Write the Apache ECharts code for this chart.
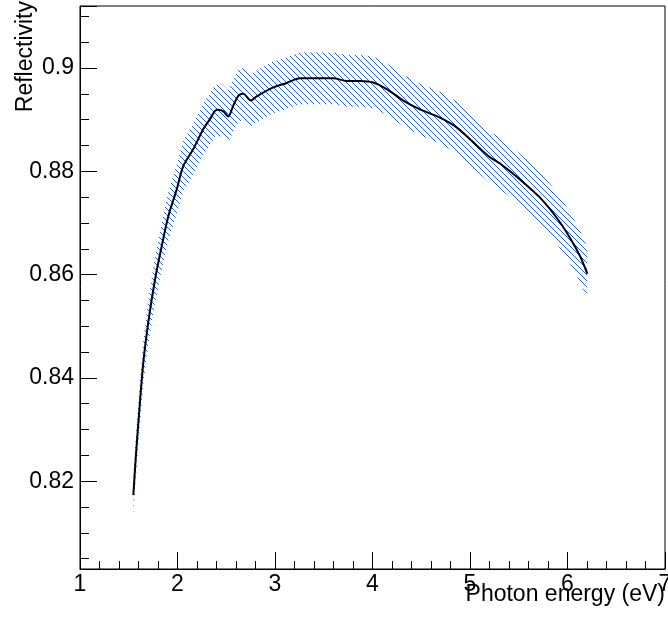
<!DOCTYPE html>
<html>
<head>
<meta charset="utf-8">
<script src="https://cdn.jsdelivr.net/npm/echarts@6/dist/echarts.min.js"></script>
<style>
html,body{margin:0;padding:0;background:#fff;}
#chart{width:668px;height:620px;}
</style>
</head>
<body>
<div id="chart"></div>
<script>
// Photon energy (eV)
var energy = [1.547, 1.570, 1.598, 1.649, 1.700, 1.769, 1.838, 1.906, 1.992, 2.059, 2.162, 2.265, 2.333, 2.385, 2.418, 2.470, 2.521, 2.572, 2.624, 2.675, 2.751, 2.812, 2.966, 3.120, 3.256, 3.598, 3.735, 3.872, 4.008, 4.146, 4.316, 4.487, 4.692, 4.863, 5.034, 5.205, 5.308, 5.513, 5.718, 5.889, 6.026, 6.128, 6.203];
// Reflectivity
var reflectivity = [0.8173, 0.8240, 0.8312, 0.8429, 0.8507, 0.8590, 0.8655, 0.8713, 0.8765, 0.8810, 0.8843, 0.8882, 0.8901, 0.8917, 0.8919, 0.8916, 0.8906, 0.8927, 0.8946, 0.8950, 0.8937, 0.8945, 0.8961, 0.8971, 0.8980, 0.8980, 0.8975, 0.8975, 0.8972, 0.8959, 0.8937, 0.8920, 0.8904, 0.8885, 0.8856, 0.8827, 0.8815, 0.8784, 0.8749, 0.8710, 0.8671, 0.8636, 0.8602];
// Uncertainty (half-width of hatched band)
var uncertainty = [0.0040, 0.0041, 0.0042, 0.0043, 0.0044, 0.0045, 0.0046, 0.0047, 0.0048, 0.0049, 0.0050, 0.0050, 0.0050, 0.0050, 0.0050, 0.0050, 0.0050, 0.0050, 0.0050, 0.0050, 0.0050, 0.0050, 0.0050, 0.0050, 0.0050, 0.0050, 0.0050, 0.0050, 0.0050, 0.0050, 0.0050, 0.0050, 0.0050, 0.0050, 0.0050, 0.0050, 0.0050, 0.0050, 0.0050, 0.0050, 0.0050, 0.0050, 0.0050];

var xTitle = 'Photon energy (eV)';
var yTitle = 'Reflectivity';

function hatchPattern() {
  var s = 6;
  var c = document.createElement('canvas');
  c.width = s; c.height = s;
  var g = c.getContext('2d');
  g.strokeStyle = 'rgb(30,95,210)';
  g.lineWidth = 1;
  g.beginPath();
  g.moveTo(-1, -1); g.lineTo(s + 1, s + 1);
  g.moveTo(-1, s - 1); g.lineTo(1, s + 1);
  g.moveTo(s - 1, -1); g.lineTo(s + 1, 1);
  g.stroke();
  return c;
}
var pattern = hatchPattern();

var linePts = energy.map(function (e, i) { return [e, reflectivity[i]]; });

var chart = echarts.init(document.getElementById('chart'), null, {renderer: 'canvas'});
var font = 'Liberation Sans, Arial, Helvetica, sans-serif';
chart.setOption({
  animation: false,
  backgroundColor: '#fff',
  grid: {left: 80, right: 3, top: 6, bottom: 51, containLabel: false, outerBoundsMode: 'none',
    show: true, borderColor: '#000', borderWidth: 1, backgroundColor: 'transparent'},
  xAxis: {
    type: 'value', min: 1, max: 7, interval: 1,
    axisLine: {show: true, lineStyle: {color: '#000', width: 1}},
    axisTick: {show: true, inside: true, length: 17, lineStyle: {color: '#000', width: 1}},
    minorTick: {show: true, splitNumber: 5, length: 8, lineStyle: {color: '#000', width: 1}},
    splitLine: {show: false},
    axisLabel: {color: '#000', fontSize: 23, fontFamily: font, margin: 4, hideOverlap: false}
  },
  yAxis: {
    type: 'value', min: 0.803, max: 0.912, splitNumber: 5,
    axisLine: {show: true, lineStyle: {color: '#000', width: 1}},
    axisTick: {show: true, inside: true, length: 17, lineStyle: {color: '#000', width: 1}},
    minorTick: {show: true, splitNumber: 4, length: 9, lineStyle: {color: '#000', width: 1}},
    splitLine: {show: false},
    axisLabel: {color: '#000', fontSize: 23, fontFamily: font, margin: 6, showMinLabel: false, showMaxLabel: false,
      formatter: function (v) { return String(+(+v).toFixed(3)); }}
  },
  graphic: [
    {type: 'text', right: 3, top: 583, style: {text: xTitle, fill: '#000', font: '23px ' + font}},
    {type: 'text', x: 26, y: 1, rotation: Math.PI / 2,
      style: {text: yTitle, fill: '#000', font: '23px ' + font, align: 'right', verticalAlign: 'middle'}}
  ],
  series: [
    {
      type: 'custom', coordinateSystem: 'cartesian2d', clip: true, silent: true, z: 1,
      data: [[energy[0], reflectivity[0]]],
      renderItem: function (params, api) {
        var pts = [];
        for (var i = 0; i < energy.length; i++) pts.push(api.coord([energy[i], reflectivity[i] + uncertainty[i]]));
        for (var j = energy.length - 1; j >= 0; j--) pts.push(api.coord([energy[j], reflectivity[j] - uncertainty[j]]));
        return {type: 'polygon', shape: {points: pts}, style: {fill: {image: pattern, repeat: 'repeat'}, stroke: null}};
      }
    },
    {
      type: 'line', data: linePts, showSymbol: false, smooth: 0.3, z: 3,
      lineStyle: {color: '#000', width: 2}
    }
  ]
});
</script>
</body>
</html>
